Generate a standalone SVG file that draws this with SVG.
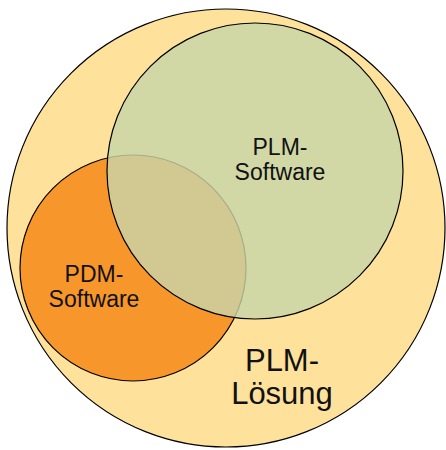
<svg xmlns="http://www.w3.org/2000/svg" width="446" height="450" viewBox="0 0 446 450">
  <style>
    .ring { stroke: #000; stroke-width: 1.2; }
    .lbl { font-family: "Liberation Sans", Arial, sans-serif; fill: #111; text-anchor: middle; }
    .small { font-size: 23px; }
    .big { font-size: 31px; }
  </style>
  <rect width="446" height="450" fill="#ffffff"/>
  <g id="plm-loesung">
    <circle class="ring" cx="226" cy="228" r="219" fill="#fee29c"/>
    <text class="lbl big" x="282" y="371">PLM-</text>
    <text class="lbl big" x="282" y="404">Lösung</text>
  </g>
  <g id="pdm-software">
    <circle class="ring" cx="133" cy="268" r="113" fill="#f7972b"/>
  </g>
  <g id="plm-software">
    <circle class="ring" cx="255" cy="171" r="148" fill="#c8d4a8" fill-opacity="0.82"/>
    <text class="lbl small" x="280" y="155">PLM-</text>
    <text class="lbl small" x="280" y="180">Software</text>
  </g>
  <g id="pdm-label">
    <text class="lbl small" x="94" y="282">PDM-</text>
    <text class="lbl small" x="94" y="307">Software</text>
  </g>
  <g id="connectors"/>
</svg>
